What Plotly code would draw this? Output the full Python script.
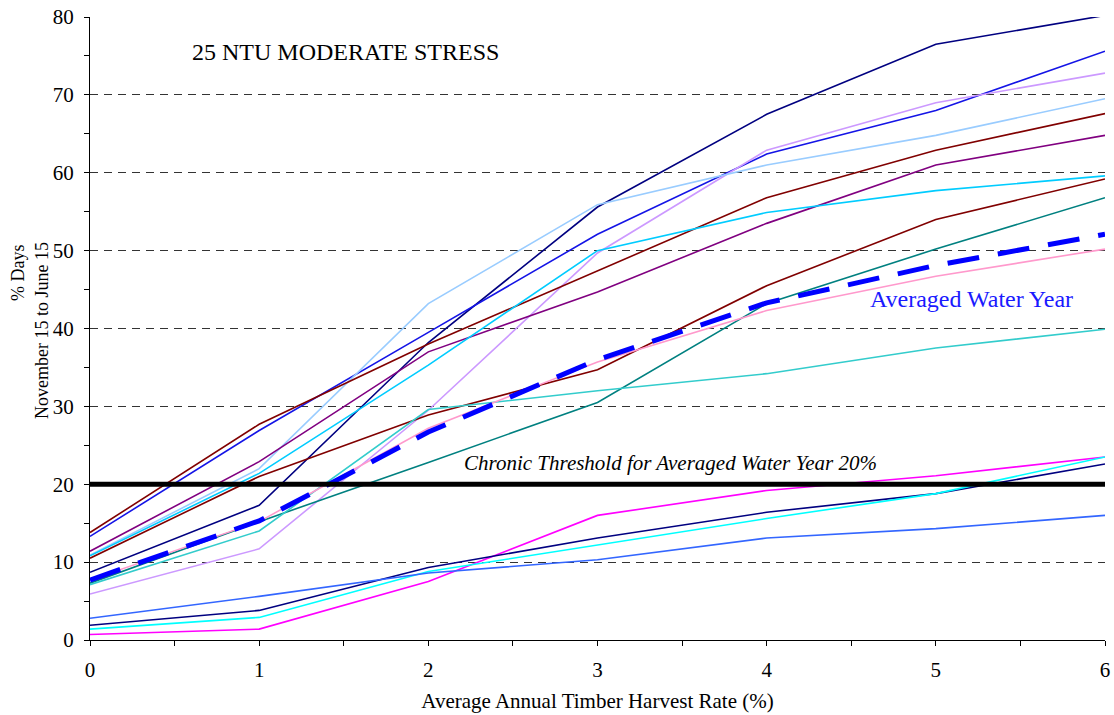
import plotly.graph_objects as go

# Harvest rate categories (% per year)
harvest_rate = [0, 1, 2, 3, 4, 5, 6]

# % of days (Nov 15 - Jun 15) above 25 NTU, one series per water year
wy_navy_hi = [8.7, 17.3, 38.2, 55.6, 67.5, 76.5, 80.2]
wy_blue = [13.3, 26.9, 39.5, 52.1, 62.4, 68.0, 75.6]
wy_lavender = [5.9, 11.7, 29.5, 49.7, 62.9, 69.0, 72.8]
wy_sky = [10.9, 22.0, 43.2, 55.9, 61.0, 64.8, 69.5]
wy_darkred_hi = [13.8, 27.7, 38.0, 47.4, 56.8, 62.9, 67.6]
wy_purple = [11.4, 22.9, 37.0, 44.7, 53.5, 61.0, 64.8]
wy_deepsky = [10.8, 21.4, 35.3, 50.0, 54.9, 57.7, 59.6]
wy_darkred_lo = [10.5, 21.0, 28.9, 34.7, 45.5, 54.0, 59.2]
wy_teal = [7.3, 15.2, 22.8, 30.5, 43.2, 50.2, 56.8]
wy_turquoise = [7.1, 14.0, 29.6, 32.0, 34.2, 37.5, 39.9]
wy_pink = [7.7, 15.2, 27.2, 35.7, 42.3, 46.7, 50.2]
wy_magenta = [0.7, 1.4, 7.5, 16.0, 19.2, 21.1, 23.5]
wy_navy_lo = [1.9, 3.8, 9.3, 13.1, 16.4, 18.8, 22.6]
wy_cyan = [1.4, 2.9, 8.8, 12.2, 15.6, 18.8, 23.5]
wy_royal = [2.8, 5.6, 8.6, 10.3, 13.1, 14.3, 16.0]

averaged_year = [7.7, 15.3, 26.7, 36.0, 43.3, 48.1, 52.1]

threshold_x = [0, 6]
threshold_y = [20, 20]

y_ticks = [0, 10, 20, 30, 40, 50, 60, 70, 80]
x_ticks = [0, 1, 2, 3, 4, 5, 6]

series = [
    (wy_navy_hi, "#000080"),
    (wy_blue, "#1414E6"),
    (wy_lavender, "#CC99FF"),
    (wy_sky, "#99CCFF"),
    (wy_darkred_hi, "#800000"),
    (wy_purple, "#800080"),
    (wy_deepsky, "#00CCFF"),
    (wy_darkred_lo, "#800000"),
    (wy_teal, "#008080"),
    (wy_turquoise, "#33CCCC"),
    (wy_pink, "#FF99CC"),
    (wy_magenta, "#FF00FF"),
    (wy_navy_lo, "#000080"),
    (wy_cyan, "#00FFFF"),
    (wy_royal, "#3366FF"),
]

fig = go.Figure()
for ys, col in series:
    fig.add_trace(go.Scatter(x=harvest_rate, y=ys, mode="lines",
                             line=dict(color=col, width=1.6),
                             showlegend=False, hoverinfo="skip"))

fig.add_trace(go.Scatter(x=harvest_rate, y=averaged_year, mode="lines",
                         line=dict(color="#0000FF", width=5, dash="32px,19px"),
                         showlegend=False))

fig.add_trace(go.Scatter(x=threshold_x, y=threshold_y, mode="lines",
                         line=dict(color="#000000", width=4.8),
                         showlegend=False))

serif = "Liberation Serif"

L, R, T, B = 90, 9, 17, 75
W, H = 1114, 715
plot_w = W - L - R
plot_h = H - T - B


def px_to_paper(px_x, px_y):
    return (px_x - L) / plot_w, (H - B - px_y) / plot_h


yt1 = px_to_paper(18, 273)
yt2 = px_to_paper(42, 331)

fig.update_layout(
    width=W, height=H,
    margin=dict(l=L, r=R, t=T, b=B, autoexpand=False),
    paper_bgcolor="white", plot_bgcolor="white",
    font=dict(family=serif, size=21, color="#000000"),
    xaxis=dict(
        range=[0, 6], tickvals=x_ticks, ticks="outside", ticklen=5,
        tickcolor="#000", showline=True, linecolor="#000", linewidth=1,
        showgrid=False, zeroline=False, ticklabelstandoff=6, automargin=False,
        minor=dict(dtick=0.5, tick0=0, ticks="outside", ticklen=5, tickcolor="#000"),
        tickfont=dict(family=serif, size=21),
        title=dict(text="Average Annual Timber Harvest Rate (%)",
                   font=dict(family=serif, size=21), standoff=12),
    ),
    yaxis=dict(
        range=[0, 80], tickvals=y_ticks, ticks="outside", ticklen=5,
        tickcolor="#000", showline=True, linecolor="#000", linewidth=1,
        showgrid=True, gridcolor="#333", gridwidth=1, griddash="8px,6px",
        zeroline=False, ticklabelstandoff=6, automargin=False,
        minor=dict(dtick=5, tick0=0, ticks="outside", ticklen=5, tickcolor="#000",
                   showgrid=False),
        tickfont=dict(family=serif, size=21),
    ),
    annotations=[
        dict(text="% Days", x=yt1[0], y=yt1[1], xref="paper", yref="paper",
             xanchor="center", yanchor="middle", showarrow=False, textangle=-90,
             font=dict(family=serif, size=18)),
        dict(text="November 15 to June 15", x=yt2[0], y=yt2[1],
             xref="paper", yref="paper", xanchor="center", yanchor="middle",
             showarrow=False, textangle=-90, font=dict(family=serif, size=18)),
        dict(text="25 NTU MODERATE STRESS", x=0.59, y=75.5, xref="x", yref="y",
             xanchor="left", yanchor="middle", showarrow=False,
             font=dict(family=serif, size=24)),
        dict(text="<i>Chronic Threshold for Averaged Water Year 20%</i>",
             x=2.2, y=22.7, xref="x", yref="y", xanchor="left", yanchor="middle",
             showarrow=False, font=dict(family=serif, size=21)),
        dict(text="Averaged Water Year", x=4.6, y=43.8, xref="x", yref="y",
             xanchor="left", yanchor="middle", showarrow=False,
             font=dict(family=serif, size=24, color="#1A1AFF")),
    ],
)

fig.write_html("out.html")
